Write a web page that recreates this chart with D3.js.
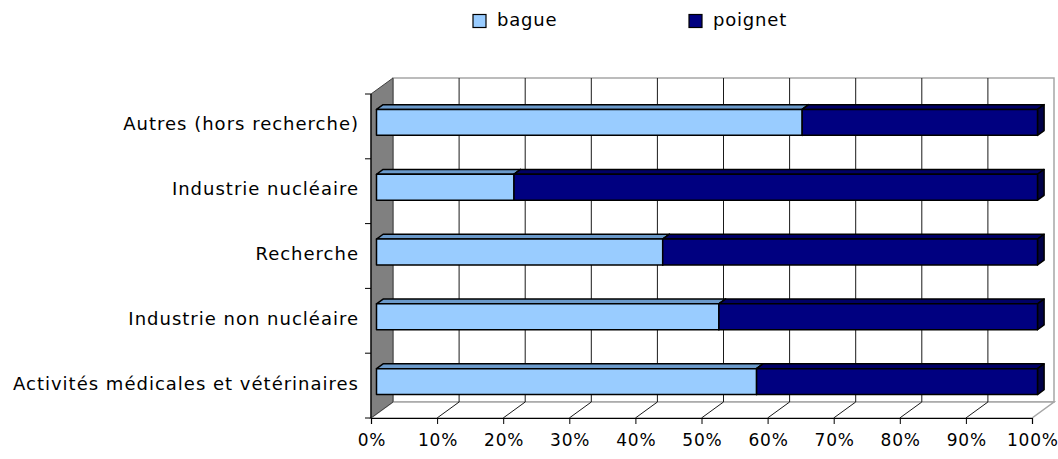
<!DOCTYPE html>
<html>
<head>
<meta charset="utf-8">
<script src="https://cdn.jsdelivr.net/npm/d3@7"></script>
<style>
  body { margin: 0; background: #fff; }
  svg { display: block; }
  text { font-family: "DejaVu Sans", Verdana, sans-serif; fill: #000; }
</style>
</head>
<body>
<svg id="chart" width="1058" height="459"></svg>
<script>
const categories = [
  "Autres (hors recherche)",
  "Industrie nucléaire ",
  "Recherche",
  "Industrie non nucléaire",
  "Activités médicales et vétérinaires"
];
const bague = [64.4, 20.8, 43.3, 51.8, 57.5];
const poignet = [35.6, 79.2, 56.7, 48.2, 42.5];
const seriesNames = ["bague", "poignet"];
const xTicks = [0, 0.1, 0.2, 0.3, 0.4, 0.5, 0.6, 0.7, 0.8, 0.9, 1];

const width = 1058, height = 459;
const svg = d3.select("#chart");

// oblique 3D: depth shifts right and up
const depth = { dx: 22, dy: 16 };
const frame = { left: 371, right: 1032, top: 94, bottom: 418 };

const x = d3.scaleLinear().domain([0, 1]).range([frame.left, frame.right]);
const y = d3.scaleBand()
  .domain(categories)
  .range([frame.top, frame.bottom])
  .paddingInner(0.6)
  .paddingOuter(0.3);

const proj = (px, py, z) => [px + z * depth.dx, py - z * depth.dy];
const poly = pts => "M" + pts.map(p => p.join(",")).join("L") + "Z";

const colors = {
  bague: { front: "#99ccff", top: "#6b9acb", side: "#5b88b8" },
  poignet: { front: "#000080", top: "#000066", side: "#000048" }
};

// walls
const g = svg.append("g");
// back wall
g.append("path")
  .attr("d", poly([proj(x(0), frame.top, 1), proj(x(1), frame.top, 1), proj(x(1), frame.bottom, 1), proj(x(0), frame.bottom, 1)]))
  .attr("fill", "#fff").attr("stroke", "#a6a6a6").attr("stroke-width", 1.5);
// floor
g.append("path")
  .attr("d", poly([proj(x(0), frame.bottom, 0), proj(x(1), frame.bottom, 0), proj(x(1), frame.bottom, 1), proj(x(0), frame.bottom, 1)]))
  .attr("fill", "#fff").attr("stroke", "#a6a6a6").attr("stroke-width", 1.5);

// gridlines
xTicks.slice(1, -1).forEach(t => {
  const a = proj(x(t), frame.top, 1), b = proj(x(t), frame.bottom, 1), c = proj(x(t), frame.bottom, 0);
  g.append("path")
    .attr("d", `M${a}L${b}L${c}`)
    .attr("fill", "none").attr("stroke", "#1a1a1a").attr("stroke-width", 1);
});

// left wall
g.append("path")
  .attr("d", poly([proj(x(0), frame.top, 0), proj(x(0), frame.top, 1), proj(x(0), frame.bottom, 1), proj(x(0), frame.bottom, 0)]))
  .attr("fill", "#808080").attr("stroke", "#404040").attr("stroke-width", 1);

// bars
const z0 = 0.25, z1 = 0.55;
const rows = categories.map((c, i) => ({ cat: c, vals: [bague[i], poignet[i]] }));
const bars = svg.append("g");
rows.forEach(r => {
  let start = 0;
  r.vals.forEach((v, k) => {
    const end = start + v / 100;
    const col = colors[seriesNames[k]];
    const x0 = x(start), x1 = x(end);
    const yt = y(r.cat), yb = y(r.cat) + y.bandwidth();
    const seg = bars.append("g")
      .attr("stroke", "#000").attr("stroke-width", 1.5).attr("stroke-linejoin", "round");
    // top face
    seg.append("path").attr("fill", col.top)
      .attr("d", poly([proj(x0, yt, z0), proj(x1, yt, z0), proj(x1, yt, z1), proj(x0, yt, z1)]));
    // right face
    seg.append("path").attr("fill", col.side)
      .attr("d", poly([proj(x1, yt, z0), proj(x1, yt, z1), proj(x1, yb, z1), proj(x1, yb, z0)]));
    // front face
    seg.append("path").attr("fill", col.front)
      .attr("d", poly([proj(x0, yt, z0), proj(x1, yt, z0), proj(x1, yb, z0), proj(x0, yb, z0)]));
    start = end;
  });
});

// x axis on the front edge of the floor
const xAxis = svg.append("g")
  .attr("transform", `translate(0,${frame.bottom})`)
  .call(d3.axisBottom(x).tickValues(xTicks).tickFormat(d3.format(".0%")).tickSizeOuter(0).tickSize(6).tickPadding(6));
xAxis.select(".domain").attr("stroke", "#000").attr("stroke-width", 1.2);
xAxis.selectAll(".tick line").attr("stroke", "#000");
xAxis.selectAll(".tick text")
  .attr("font-size", 17).attr("dy", "0.95em")
  .attr("letter-spacing", 0.8).attr("dx", 0.4);

// y axis on the front edge of the left wall
const yBounds = d3.range(categories.length + 1).map(i => frame.top + i * (frame.bottom - frame.top) / categories.length);
const yAxis = svg.append("g");
yAxis.append("line")
  .attr("x1", frame.left).attr("x2", frame.left)
  .attr("y1", frame.top).attr("y2", frame.bottom)
  .attr("stroke", "#000").attr("stroke-width", 1.2);
yAxis.selectAll(".ytick").data(yBounds).join("line")
  .attr("x1", frame.left - 6).attr("x2", frame.left)
  .attr("y1", d => d).attr("y2", d => d)
  .attr("stroke", "#000");
yAxis.selectAll(".ylab").data(categories).join("text")
  .attr("x", frame.left - 12)
  .attr("y", d => y(d) + y.bandwidth() / 2 - 1)
  .attr("text-anchor", "end")
  .attr("dominant-baseline", "middle")
  .attr("font-size", 18)
  .attr("letter-spacing", 1)
  .text(d => d);

// legend
const legendX = [473, 689];
const legend = svg.append("g");
seriesNames.forEach((s, i) => {
  legend.append("rect")
    .attr("x", legendX[i]).attr("y", 14.5).attr("width", 13).attr("height", 13)
    .attr("fill", colors[s].front).attr("stroke", "#000").attr("stroke-width", 1.2);
  legend.append("text")
    .attr("x", legendX[i] + 24).attr("y", 21)
    .attr("dominant-baseline", "middle")
    .attr("font-size", 18)
    .attr("letter-spacing", 0.8)
    .text(s);
});
</script>
</body>
</html>
